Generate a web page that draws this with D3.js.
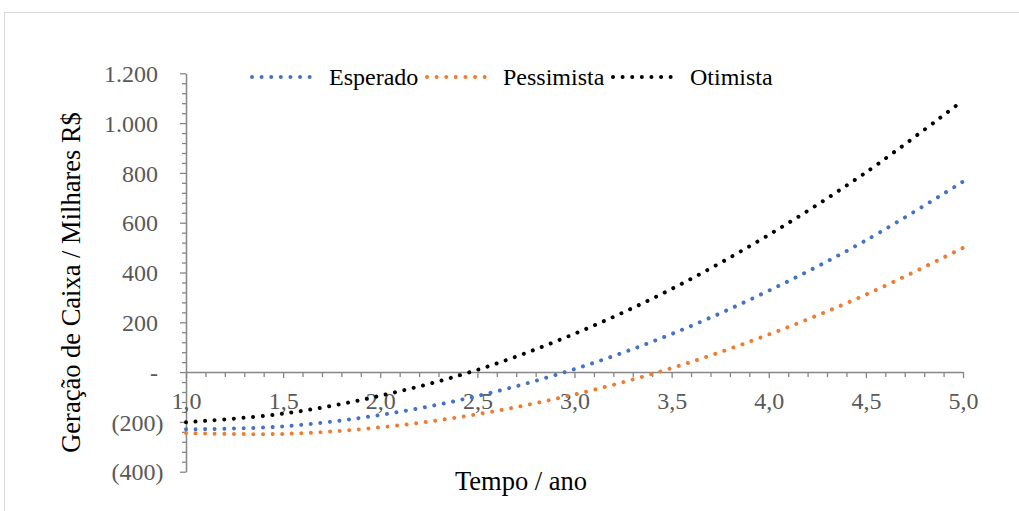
<!DOCTYPE html>
<html>
<head>
<meta charset="utf-8">
<script src="https://cdn.jsdelivr.net/npm/d3@7"></script>
<style>
  body { margin: 0; background: #fff; }
  svg { display: block; }
  svg text { font-family: "Liberation Serif", "Times New Roman", serif; }
</style>
</head>
<body>
<svg id="chart" width="1019" height="511"></svg>
<script>
// anos (eixo x) e geração de caixa por cenário, milhares R$
const anos = [1.0, 1.5, 2.0, 2.5, 3.0, 3.5, 4.0, 4.5, 5.0];
const esperado = [-230, -218, -172, -96, 12, 153, 327, 529, 765];
const pessimista = [-245, -248, -222, -169, -90, 16, 151, 311, 499];
const otimista = [-201, -167, -95, 9, 154, 334, 551, 802, 1091];

const series = [
  { name: "Esperado", values: esperado, color: "#4472C4" },
  { name: "Pessimista", values: pessimista, color: "#ED7D31" },
  { name: "Otimista", values: otimista, color: "#000000" }
];

const yMajor = [-400, -200, 0, 200, 400, 600, 800, 1000, 1200];
const xMajor = [1.0, 1.5, 2.0, 2.5, 3.0, 3.5, 4.0, 4.5, 5.0];

const svg = d3.select("#chart");
const serif = "'Liberation Serif', 'Times New Roman', serif";

// moldura clara do gráfico
svg.append("rect")
  .attr("x", 4.5).attr("y", 12.5)
  .attr("width", 1030).attr("height", 520)
  .attr("fill", "none")
  .attr("stroke", "#d9d9d9");

const x = d3.scaleLinear().domain([1, 5]).range([186, 963]);
const y = d3.scaleLinear().domain([-400, 1200]).range([471.7, 73.3]);

const ptBR = d3.formatLocale({ decimal: ",", thousands: ".", grouping: [3], currency: ["R$", ""] });
const fmtInt = ptBR.format(",d");
const fmtX = ptBR.format(".1f");
const fmtY = v => v === 0 ? "-" : v < 0 ? "(" + fmtInt(-v) + ")" : fmtInt(v);

const axisColor = "#868686";

// eixo y: minor ticks a cada 40
const yMinor = d3.range(-400, 1201, 40).filter(v => !yMajor.includes(v));
svg.append("g")
  .attr("transform", `translate(${x(1)},0)`)
  .call(d3.axisLeft(y).tickValues(yMinor).tickSize(4).tickSizeOuter(0).tickFormat(""))
  .call(g => g.select(".domain").remove())
  .call(g => g.selectAll("line").attr("stroke", axisColor).attr("stroke-width", 1.3));

svg.append("g")
  .attr("transform", `translate(${x(1)},0)`)
  .call(d3.axisLeft(y).tickValues(yMajor).tickSize(6).tickSizeOuter(0).tickFormat(fmtY))
  .attr("font-family", serif)
  .attr("font-size", 24)
  .call(g => g.select(".domain").attr("stroke", axisColor).attr("stroke-width", 1.5))
  .call(g => g.selectAll("line").attr("stroke", axisColor).attr("stroke-width", 1.3))
  .call(g => g.selectAll("text")
    .attr("x", d => d < 0 ? -22.5 : -28)
    .attr("dy", "0.34em")
    .attr("fill", "#595959"));

// eixo x sobre o zero: ticks a cada 0,1
const xMinor = d3.range(11, 50).map(v => v / 10).filter(v => !xMajor.some(m => Math.abs(m - v) < 1e-9));
svg.append("g")
  .attr("transform", `translate(0,${y(0)})`)
  .call(d3.axisBottom(x).tickValues(xMinor).tickSize(5).tickSizeOuter(0).tickFormat(""))
  .call(g => g.select(".domain").remove())
  .call(g => g.selectAll("line").attr("stroke", axisColor).attr("stroke-width", 1.3));

svg.append("g")
  .attr("transform", `translate(0,${y(0)})`)
  .call(d3.axisBottom(x).tickValues(xMajor).tickSize(6).tickSizeOuter(0).tickFormat(fmtX))
  .attr("font-family", serif)
  .attr("font-size", 24)
  .call(g => g.select(".domain").attr("stroke", axisColor).attr("stroke-width", 1.5))
  .call(g => g.selectAll("line").attr("stroke", axisColor).attr("stroke-width", 1.3))
  .call(g => g.selectAll("text")
    .attr("y", 20)
    .attr("fill", "#595959"));

// curvas pontilhadas
const line = d3.line()
  .x((d, i) => x(anos[i]))
  .y(d => y(d))
  .curve(d3.curveCatmullRom.alpha(0.5));

svg.append("g").selectAll("path")
  .data(series)
  .enter()
  .append("path")
  .attr("d", d => line(d.values))
  .attr("fill", "none")
  .attr("stroke", d => d.color)
  .attr("stroke-width", 4)
  .attr("stroke-linecap", "round")
  .attr("stroke-dasharray", "0.01 9.6");

// legenda
const legendPos = [252, 427, 613];
const legendText = [329, 503, 690];
const legend = svg.append("g").selectAll("g")
  .data(series)
  .enter()
  .append("g")
  .attr("transform", (d, i) => `translate(${legendPos[i]},77)`);

legend.append("line")
  .attr("x1", 0).attr("x2", 58)
  .attr("stroke", d => d.color)
  .attr("stroke-width", 4)
  .attr("stroke-linecap", "round")
  .attr("stroke-dasharray", "0.01 9.6");

legend.append("text")
  .attr("x", (d, i) => legendText[i] - legendPos[i])
  .attr("y", 8)
  .attr("font-size", 24)
  .attr("fill", "#000")
  .text(d => d.name);

// títulos dos eixos
svg.append("text")
  .attr("x", 521).attr("y", 490)
  .attr("text-anchor", "middle")
  .attr("font-size", 26.5)
  .text("Tempo / ano");

svg.append("text")
  .attr("transform", "translate(80,282.5) rotate(-90)")
  .attr("text-anchor", "middle")
  .attr("font-size", 26.5)
  .text("Geração de Caixa / Milhares R$");
</script>
</body>
</html>
